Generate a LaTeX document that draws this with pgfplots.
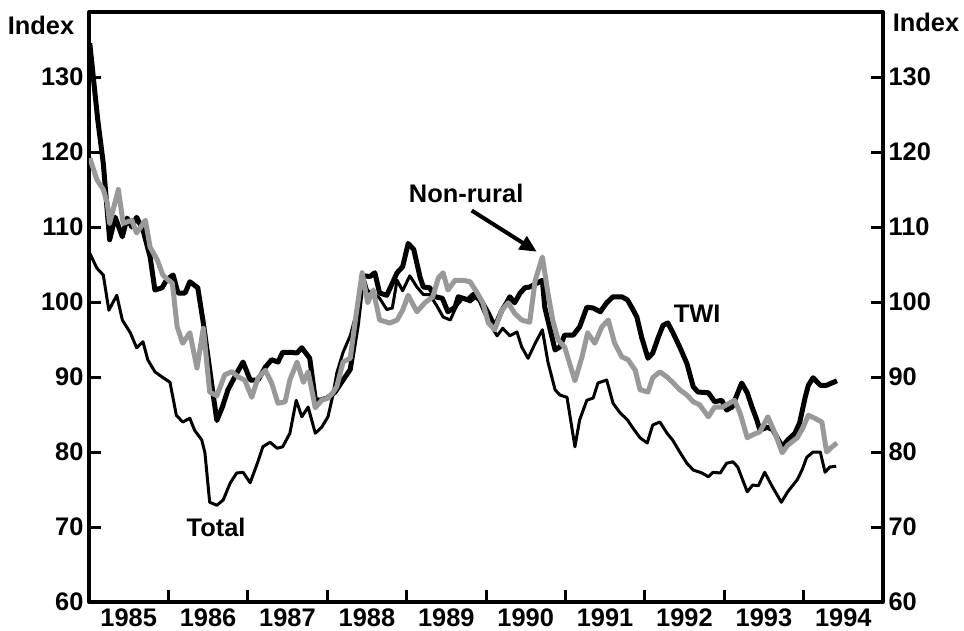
\documentclass[border=0pt]{standalone}
\usepackage{fontspec}
\setmainfont{Liberation Sans}
\usepackage{pgfplots}
\pgfplotsset{compat=1.18}
\usetikzlibrary{arrows.meta}
\definecolor{nrgray}{RGB}{153,153,153}
\newcommand{\lbl}{\fontsize{25.5}{30}\selectfont\bfseries}

\begin{document}
\begin{tikzpicture}
\pgfplotsset{
  common/.style={
    scale only axis, width=794bp, height=590bp,
    xmin=1985, xmax=1995, ymin=60, ymax=138.67,
    ytick={60,70,80,90,100,110,120,130},
    tick align=inside,
    ticklabel style={font=\lbl},
    /pgf/number format/assume math mode=true,
  }
}
\begin{axis}[common,
    axis line style={line width=4bp},
    xtick={1985.5,1986.5,1987.5,1988.5,1989.5,1990.5,1991.5,1992.5,1993.5,1994.5},
    xticklabels={1985,1986,1987,1988,1989,1990,1991,1992,1993,1994},
    major x tick style={draw=none},
    minor xtick={1986,1987,1988,1989,1990,1991,1992,1993,1994},
    minor tick length=12bp, major tick length=12bp,
    tick style={line width=3bp, black},
    xtick pos=bottom,
    ytick pos=both,
    yticklabel pos=left,
    /pgf/number format/1000 sep={},
    xticklabel style={yshift=-3bp},
    yticklabel style={xshift=-2bp},
    line join=round,
]
% Total
\addplot[black, line width=3bp] coordinates {
(1985.01,106.5)(1985.10,104.5)(1985.18,103.6)(1985.25,98.9)(1985.35,100.9)(1985.42,97.6)
(1985.52,95.9)(1985.60,93.9)(1985.68,94.7)(1985.74,92.3)(1985.83,90.7)(1985.92,90)
(1986.02,89.3)(1986.10,84.9)(1986.18,84)(1986.27,84.5)(1986.33,82.9)(1986.42,81.6)
(1986.46,79.9)(1986.52,73.3)(1986.61,72.9)(1986.69,73.6)(1986.78,75.9)(1986.86,77.2)
(1986.94,77.3)(1987.03,75.9)(1987.12,78.5)(1987.19,80.7)(1987.28,81.3)(1987.37,80.5)
(1987.44,80.7)(1987.53,82.5)(1987.61,86.9)(1987.68,84.7)(1987.76,86)(1987.85,82.5)
(1987.93,83.3)(1988.01,84.7)(1988.07,87.5)(1988.12,90.5)(1988.20,93.3)(1988.29,95.5)
(1988.38,99)(1988.44,104)(1988.51,101.5)(1988.58,101.2)(1988.66,100.5)(1988.75,99)
(1988.82,99.2)(1988.88,102.9)(1988.95,101.5)(1989.04,103.5)(1989.13,102)(1989.21,101)
(1989.29,101)(1989.38,99.5)(1989.46,98)(1989.55,97.6)(1989.63,99.5)(1989.71,100.5)
(1989.80,100)(1989.89,100.8)(1989.96,99)(1990.05,97)(1990.14,95.5)(1990.21,96.5)
(1990.30,95.5)(1990.39,96)(1990.45,94)(1990.53,92.5)(1990.62,94.5)(1990.71,96.3)
(1990.78,92)(1990.87,88.3)(1990.93,87.6)(1991.02,87.3)(1991.12,80.7)(1991.18,84.3)
(1991.27,86.9)(1991.35,87.2)(1991.41,89.2)(1991.52,89.6)(1991.60,86.5)(1991.69,85.2)
(1991.78,84.3)(1991.85,83.2)(1991.94,81.9)(1992.03,81.2)(1992.10,83.6)(1992.19,84)
(1992.28,82.5)(1992.35,81.6)(1992.44,80)(1992.53,78.5)(1992.61,77.6)(1992.72,77.2)
(1992.80,76.7)(1992.86,77.3)(1992.95,77.2)(1993.03,78.5)(1993.11,78.7)(1993.17,78)
(1993.29,74.7)(1993.36,75.6)(1993.43,75.5)(1993.51,77.3)(1993.61,75.3)(1993.72,73.3)
(1993.80,74.7)(1993.92,76.3)(1993.98,77.6)(1994.04,79.3)(1994.12,80)(1994.21,80)
(1994.27,77.3)(1994.33,78)(1994.41,78.1)
};
% TWI
\addplot[black, line width=5bp] coordinates {
(1985.01,134.5)(1985.11,124.3)(1985.18,118.5)(1985.26,108.3)(1985.33,111.3)(1985.42,108.7)
(1985.48,111.2)(1985.54,110)(1985.60,111.3)(1985.68,109.6)(1985.77,106)(1985.83,101.6)
(1985.92,101.9)(1985.98,103)(1986.06,103.6)(1986.12,101.2)(1986.21,101.2)(1986.27,102.7)
(1986.37,101.9)(1986.44,97.2)(1986.55,88.7)(1986.61,84.2)(1986.68,86)(1986.75,88.3)
(1986.86,90.5)(1986.94,92)(1987.03,89.6)(1987.13,89.6)(1987.22,91.3)(1987.30,92.3)
(1987.38,92)(1987.44,93.3)(1987.53,93.3)(1987.62,93.2)(1987.68,93.9)(1987.78,92.5)
(1987.85,87)(1987.91,86.9)(1988.00,87.2)(1988.10,88)(1988.20,89.6)(1988.29,91)
(1988.38,97)(1988.45,103.5)(1988.54,103.4)(1988.60,103.9)(1988.66,101.2)(1988.75,100.9)
(1988.82,102.5)(1988.88,103.9)(1988.95,104.7)(1989.02,107.8)(1989.09,107)(1989.17,103.3)
(1989.21,102)(1989.29,101.9)(1989.36,100.7)(1989.45,100.5)(1989.52,98.7)(1989.61,99.3)
(1989.65,100.7)(1989.77,100.3)(1989.84,101)(1989.95,100)(1990.03,98.5)(1990.11,96.7)
(1990.20,98.9)(1990.26,99.9)(1990.30,100.7)(1990.36,99.9)(1990.43,101.2)(1990.49,101.9)
(1990.55,102)(1990.64,102.5)(1990.71,102.9)(1990.74,99.3)(1990.87,93.6)(1990.93,94)
(1990.99,95.6)(1991.10,95.6)(1991.18,96.7)(1991.27,99.3)(1991.35,99.2)(1991.44,98.7)
(1991.52,99.9)(1991.60,100.7)(1991.71,100.7)(1991.78,100.3)(1991.84,99.2)(1991.90,98)
(1991.96,95.3)(1992.04,92.5)(1992.10,93.2)(1992.17,95.3)(1992.23,96.9)(1992.29,97.2)
(1992.35,96)(1992.44,94)(1992.53,91.8)(1992.61,88.7)(1992.67,88)(1992.80,87.9)
(1992.88,86.7)(1992.97,86.9)(1993.03,85.6)(1993.10,86)(1993.16,87.6)(1993.22,89.2)
(1993.29,87.9)(1993.35,86)(1993.41,84.3)(1993.45,82.9)(1993.54,83.3)(1993.61,83)
(1993.73,80.7)(1993.80,81.6)(1993.89,82.5)(1993.95,83.9)(1994.02,87.3)(1994.06,88.9)
(1994.12,89.9)(1994.21,88.9)(1994.29,88.9)(1994.42,89.5)
};
% Non-rural
\addplot[nrgray, line width=5bp] coordinates {
(1985.01,119.2)(1985.10,116.3)(1985.18,115)(1985.23,113.2)(1985.26,110.5)(1985.37,115)
(1985.43,110.5)(1985.54,110.9)(1985.60,109.2)(1985.71,110.9)(1985.77,107.3)(1985.86,105.6)
(1985.93,103.6)(1985.99,103)(1986.05,102.5)(1986.11,96.7)(1986.18,94.5)(1986.27,95.9)
(1986.36,91.2)(1986.44,96.5)(1986.52,88)(1986.61,87.5)(1986.71,90.3)(1986.80,90.7)
(1986.88,90)(1986.96,89.6)(1987.05,87.3)(1987.13,89.9)(1987.22,90.9)(1987.30,89.2)
(1987.38,86.5)(1987.47,86.7)(1987.53,89.6)(1987.62,92)(1987.70,89.3)(1987.76,90.7)
(1987.85,85.9)(1987.93,86.9)(1988.01,87.2)(1988.07,87.9)(1988.12,88.7)(1988.20,92)
(1988.29,92.5)(1988.36,98)(1988.44,103.9)(1988.51,99.9)(1988.58,101.6)(1988.66,97.6)
(1988.79,97.2)(1988.88,97.6)(1988.95,98.9)(1989.02,100.9)(1989.13,98.7)(1989.23,99.9)
(1989.33,100.7)(1989.40,103.2)(1989.46,103.9)(1989.52,101.6)(1989.61,102.9)(1989.71,102.9)
(1989.80,102.7)(1989.89,101.2)(1989.96,99.9)(1990.03,97.2)(1990.11,96.3)(1990.20,98.9)
(1990.28,99.9)(1990.36,98.5)(1990.45,97.6)(1990.55,97.3)(1990.62,102.9)(1990.71,106)
(1990.78,101.2)(1990.84,97.6)(1990.91,94.9)(1990.99,94)(1991.12,89.5)(1991.21,92.7)
(1991.28,95.9)(1991.37,94.5)(1991.46,96.7)(1991.54,97.6)(1991.62,94.5)(1991.71,92.7)
(1991.79,92.3)(1991.88,90.9)(1991.94,88.3)(1992.04,88)(1992.10,89.9)(1992.19,90.7)
(1992.28,90)(1992.35,89.3)(1992.44,88.3)(1992.53,87.6)(1992.61,86.7)(1992.69,86.3)
(1992.80,84.7)(1992.88,86)(1992.98,86)(1993.13,86.9)(1993.20,85.2)(1993.29,81.9)
(1993.36,82.3)(1993.45,82.7)(1993.55,84.7)(1993.64,82.5)(1993.73,79.9)(1993.80,80.9)
(1993.92,81.9)(1993.99,83.2)(1994.06,84.9)(1994.14,84.5)(1994.23,84)(1994.29,80)
(1994.36,80.7)(1994.42,81.2)
};
\node[font=\lbl] at (axis cs:1989.75,114.5) {Non-rural};
\draw[-{Triangle[length=17bp,width=15bp]}, line width=4bp] (axis cs:1989.82,112.2) -- (axis cs:1990.64,106.7);
\node[font=\lbl] at (axis cs:1992.66,98.5) {TWI};
\node[font=\lbl] at (axis cs:1986.6,70) {Total};
\end{axis}
\begin{axis}[common,
    axis line style={draw=none},
    xtick=\empty,
    major tick length=0bp,
    ytick style={draw=none},
    yticklabel pos=right,
    yticklabel style={xshift=2bp},
]
\addplot[draw=none] coordinates {(1986,70)};
\end{axis}
\node[font=\lbl] at (-48bp,577bp) {Index};
\node[font=\lbl] at (837bp,580bp) {Index};
\pgfresetboundingbox
\path[use as bounding box] (-89bp,-29bp) rectangle (875bp,602bp);
\end{tikzpicture}
\end{document}
